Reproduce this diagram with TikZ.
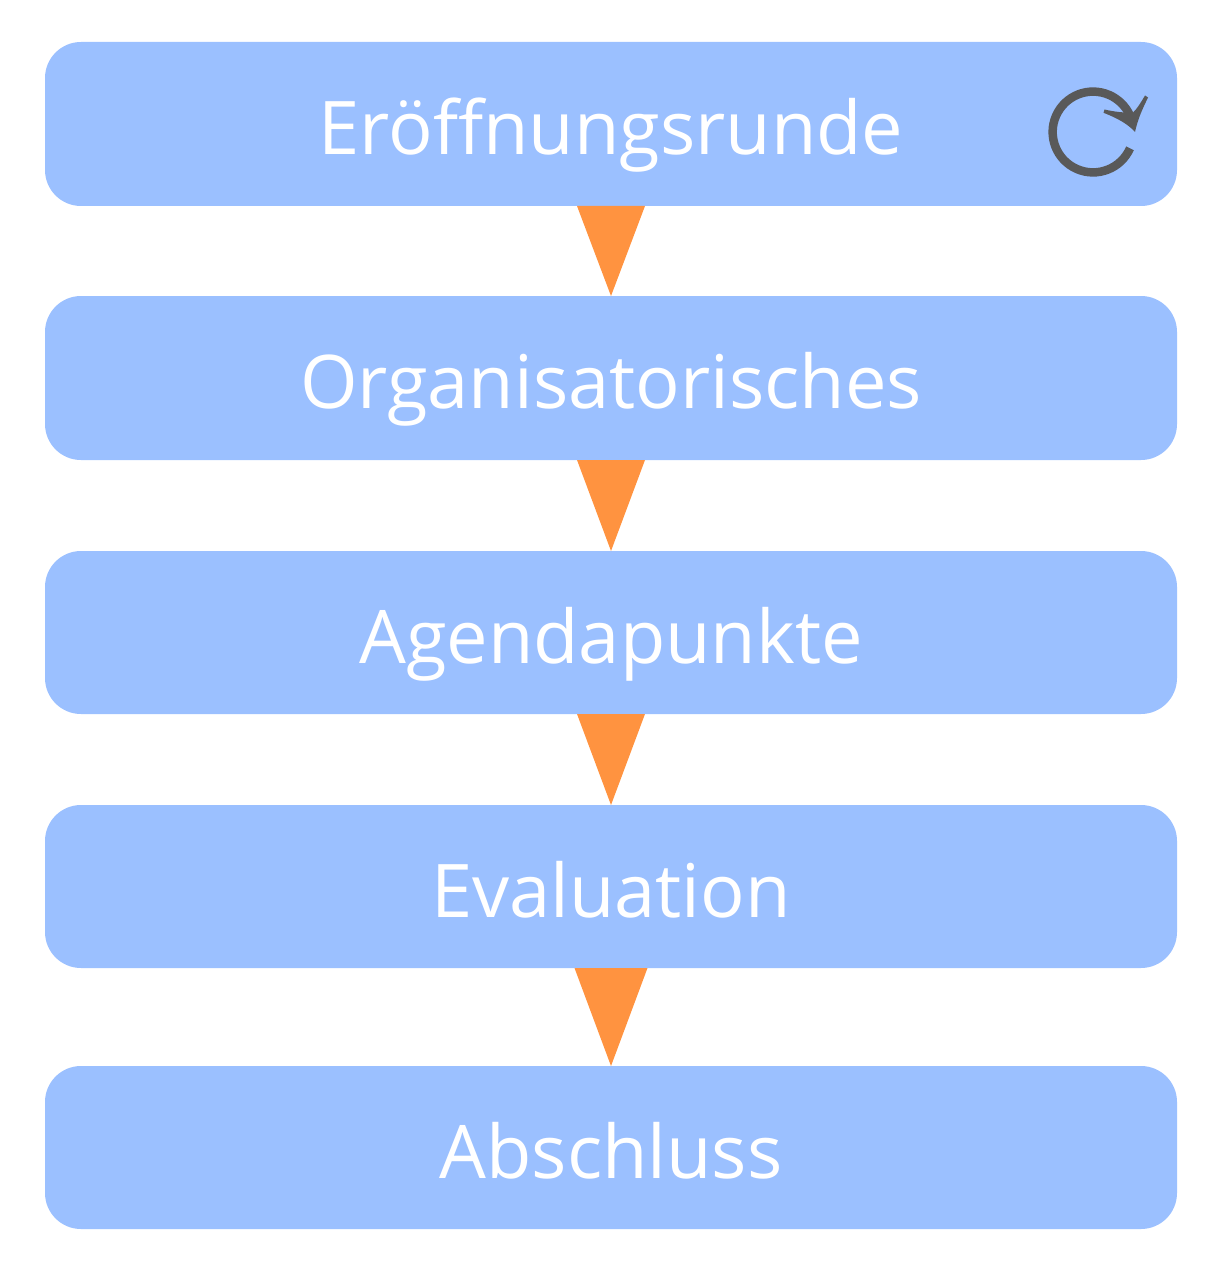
\documentclass[tikz,border=0pt]{standalone}
\usepackage{fontspec}
\setmainfont{Open Sans}
\definecolor{boxblue}{HTML}{9BC0FF}
\definecolor{arrorange}{HTML}{FF9340}
\definecolor{icongray}{HTML}{595959}
\tikzset{
  stepbox/.style={rectangle,fill=boxblue,rounded corners=36pt,minimum width=1132pt,inner sep=0pt,outer sep=0pt,
    text=white,font=\fontsize{74}{74}\selectfont,text height=61pt,text depth=0pt,anchor=center},
  flowtri/.style={fill=arrorange,draw=none}
}
\begin{document}
\begin{tikzpicture}[x=1pt,y=-1pt]
\useasboundingbox (0,0) rectangle (1215,1273);
\node[stepbox,minimum height=164pt] (a) at (611,124) {Eröffnungsrunde};
\node[stepbox,minimum height=164pt] (b) at (611,378) {Organisatorisches};
\node[stepbox,minimum height=163pt] (c) at (611,632.5) {Agendapunkte};
\node[stepbox,minimum height=163pt] (d) at (611,886.5) {Evaluation};
\node[stepbox,minimum height=163pt] (e) at (611,1147.5) {Abschluss};
\fill[flowtri] ([xshift=-34pt]a.south) -- ([xshift=34pt]a.south) -- (b.north) -- cycle;
\fill[flowtri] ([xshift=-34pt]b.south) -- ([xshift=34pt]b.south) -- (c.north) -- cycle;
\fill[flowtri] ([xshift=-34pt]c.south) -- ([xshift=34pt]c.south) -- (d.north) -- cycle;
\fill[flowtri] ([xshift=-36.5pt]d.south) -- ([xshift=36.5pt]d.south) -- (e.north) -- cycle;
% loop icon
\draw[icongray,line width=8.5pt] (1130,148.3) arc[start angle=23.8,end angle=336,x radius=40.4,y radius=40.4];
\fill[icongray] (1135,132) .. controls (1128,124) and (1117,118) .. (1103.5,112.8) -- (1104.5,109.5) .. controls (1113,111.5) and (1124,113) .. (1133,112.5)
  .. controls (1136,110) and (1140,104) .. (1145,95.5) -- (1148,97.5) .. controls (1143,108) and (1138,118) .. cycle;
\end{tikzpicture}
\end{document}
